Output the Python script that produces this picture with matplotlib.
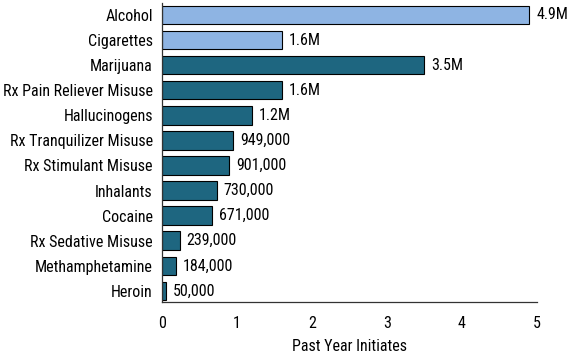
import matplotlib
matplotlib.use("Agg")
import matplotlib.pyplot as plt

plt.rcParams['font.family'] = ['Roboto Condensed', 'DejaVu Sans']

substances = ["Alcohol", "Cigarettes", "Marijuana", "Rx Pain Reliever Misuse",
              "Hallucinogens", "Rx Tranquilizer Misuse", "Rx Stimulant Misuse",
              "Inhalants", "Cocaine", "Rx Sedative Misuse", "Methamphetamine",
              "Heroin"]
initiates = [4.9, 1.6, 3.5, 1.6, 1.2, 0.949, 0.901, 0.730, 0.671, 0.239, 0.184, 0.050]
value_labels = ["4.9M", "1.6M", "3.5M", "1.6M", "1.2M", "949,000", "901,000",
                "730,000", "671,000", "239,000", "184,000", "50,000"]
light = "#8EB4E3"
dark = "#1E6680"
colors = [light, light] + [dark] * 10

fig = plt.figure(figsize=(5.76, 3.57), dpi=100)
ax = fig.add_axes([0.281, 0.154, 0.651, 0.838])

y = list(range(len(substances)))
ax.barh(y, initiates, height=0.74, color=colors, edgecolor="black", linewidth=0.8)
for yi, v, lab in zip(y, initiates, value_labels):
    ax.text(v + 0.09, yi, lab, va="center", ha="left", fontsize=11.5)

ax.set_yticks(y)
ax.set_yticklabels(substances, fontsize=11.5)
ax.set_ylim(11.44, -0.48)
ax.set_xlim(0, 5)
ax.set_xticks([0, 1, 2, 3, 4, 5])
ax.tick_params(axis="both", length=0, labelsize=11.5)
ax.tick_params(axis="x", pad=10)
ax.tick_params(axis="y", pad=6.5)
ax.set_xlabel("Past Year Initiates", fontsize=11.5, labelpad=6)
for s in ["top", "right"]:
    ax.spines[s].set_visible(False)
for s in ["left", "bottom"]:
    ax.spines[s].set_linewidth(0.9)
    ax.spines[s].set_color("#333333")

fig.savefig("out.png", dpi=100)
